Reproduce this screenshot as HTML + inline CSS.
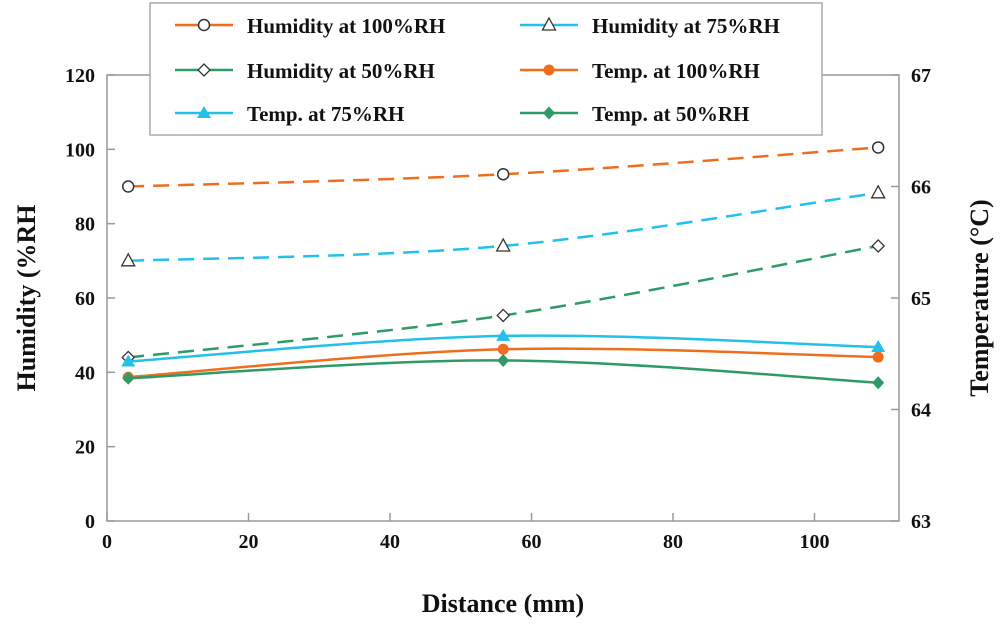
<!DOCTYPE html>
<html><head><meta charset="utf-8"><style>
body{margin:0;background:#fff}
svg text{font-family:"Liberation Serif",serif;font-weight:bold;fill:#111}
</style></head><body>
<svg id="c" width="1000" height="624" xmlns="http://www.w3.org/2000/svg"></svg>
<script>
const xValues=[3,56,109];
const humidity100=[90,93.3,100.5];
const humidity75=[70,74,88.3];
const humidity50=[44,55.3,74];
const temp100=[64.29,64.54,64.47];
const temp75=[64.43,64.66,64.56];
const temp50=[64.28,64.44,64.24];
const xTicks=[0,20,40,60,80,100];
const yTicks=[0,20,40,60,80,100,120];
const y2Ticks=[63,64,65,66,67];
const NS='http://www.w3.org/2000/svg';
const svg=document.getElementById('c');
const L=107,R=899,T=75,B=521;
const sx=v=>L+v*7.075;
const sy=v=>B-(v/120)*(B-T);
const sy2=v=>B-((v-63)/4)*(B-T);
function mk(tag,attrs,parent){const e=document.createElementNS(NS,tag);for(const k in attrs)e.setAttribute(k,attrs[k]);(parent||svg).appendChild(e);return e;}
const frame=mk('rect',{x:L,y:T,width:R-L,height:B-T,fill:'none',stroke:'#999','stroke-width':1.5});


xTicks.forEach(t=>{mk('line',{x1:sx(t),x2:sx(t),y1:B,y2:B-8,stroke:'#999','stroke-width':1.5});
const tx=mk('text',{x:sx(t),y:B+27,'text-anchor':'middle','font-size':20});tx.textContent=t;

});
yTicks.forEach(t=>{mk('line',{x1:L,x2:L+8,y1:sy(t),y2:sy(t),stroke:'#999','stroke-width':1.5});
const tx=mk('text',{x:L-12,y:sy(t)+7,'text-anchor':'end','font-size':20});tx.textContent=t;

});
y2Ticks.forEach(t=>{mk('line',{x1:R,x2:R-8,y1:sy2(t),y2:sy2(t),stroke:'#999','stroke-width':1.5});
const tx=mk('text',{x:R+12,y:sy2(t)+7,'text-anchor':'start','font-size':20});tx.textContent=t;

});
let t1=mk('text',{x:503,y:612,'text-anchor':'middle','font-size':26});t1.textContent='Distance (mm)';


let t2=mk('text',{x:0,y:0,'text-anchor':'middle','font-size':26,transform:'translate(35,298) rotate(-90)'});t2.textContent='Humidity (%RH';


let t3=mk('text',{x:0,y:0,'text-anchor':'middle','font-size':26,transform:'translate(988,298) rotate(-90)'});t3.textContent='Temperature (°C)';


function curve(pts){let d='M'+pts[0][0]+','+pts[0][1];for(let i=0;i<pts.length-1;i++){const p0=pts[i-1]||pts[i],p1=pts[i],p2=pts[i+1],p3=pts[i+2]||p2;
d+=' C'+(p1[0]+(p2[0]-p0[0])/6)+','+(p1[1]+(p2[1]-p0[1])/6)+' '+(p2[0]-(p3[0]-p1[0])/6)+','+(p2[1]-(p3[1]-p1[1])/6)+' '+p2[0]+','+p2[1];}return d;}
function marker(type,x,y,color,g){
 if(type==='circle-open')return mk('circle',{cx:x,cy:y,r:5.5,fill:'#fff',stroke:'#333','stroke-width':1.5},g);
 if(type==='tri-open')return mk('polygon',{points:`${x},${y-7} ${x+6.5},${y+5} ${x-6.5},${y+5}`,fill:'#fff',stroke:'#333','stroke-width':1.3},g);
 if(type==='diamond-open')return mk('polygon',{points:`${x},${y-6} ${x+6},${y} ${x},${y+6} ${x-6},${y}`,fill:'#fff',stroke:'#333','stroke-width':1.3},g);
 if(type==='circle')return mk('circle',{cx:x,cy:y,r:5.5,fill:color},g);
 if(type==='tri')return mk('polygon',{points:`${x},${y-7} ${x+7},${y+5} ${x-7},${y+5}`,fill:color},g);
 if(type==='diamond')return mk('polygon',{points:`${x},${y-6.5} ${x+6},${y} ${x},${y+6.5} ${x-6},${y}`,fill:color},g);
}
const series=[
 {name:'humidity-100',vals:humidity100,ax:sy,color:'#ee6e1e',dash:'16,9',m:'circle-open',label:'Humidity at 100%RH',lx:175,ly:25},
 {name:'humidity-75',vals:humidity75,ax:sy,color:'#22c0ea',dash:'16,9',m:'tri-open',label:'Humidity at 75%RH',lx:520,ly:25},
 {name:'humidity-50',vals:humidity50,ax:sy,color:'#2e9a66',dash:'16,9',m:'diamond-open',label:'Humidity at 50%RH',lx:175,ly:70},
 {name:'temp-100',vals:temp100,ax:sy2,color:'#ee6e1e',dash:'',m:'circle',label:'Temp. at 100%RH',lx:520,ly:70},
 {name:'temp-75',vals:temp75,ax:sy2,color:'#22c0ea',dash:'',m:'tri',label:'Temp. at 75%RH',lx:175,ly:113},
 {name:'temp-50',vals:temp50,ax:sy2,color:'#2e9a66',dash:'',m:'diamond',label:'Temp. at 50%RH',lx:520,ly:113}];
series.forEach(s=>{const g=mk('g',{});


const pts=xValues.map((x,i)=>[sx(x),s.ax(s.vals[i])]);
mk('path',{d:curve(pts),fill:'none',stroke:s.color,'stroke-width':2.5,'stroke-dasharray':s.dash},g);
pts.forEach(p=>{const m=marker(s.m,p[0],p[1],s.color,g);

});});
const lg=mk('g',{});


mk('rect',{x:150,y:3,width:672,height:132,fill:'#fff',stroke:'#aaa','stroke-width':1.5},lg);
series.forEach(s=>{const e=mk('g',{},lg);


mk('line',{x1:s.lx,x2:s.lx+58,y1:s.ly,y2:s.ly,stroke:s.color,'stroke-width':2.5},e);
marker(s.m,s.lx+29,s.ly,s.color,e);
const tx=mk('text',{x:s.lx+72,y:s.ly+8,'font-size':21},e);tx.textContent=s.label;});
</script>
</body></html>
